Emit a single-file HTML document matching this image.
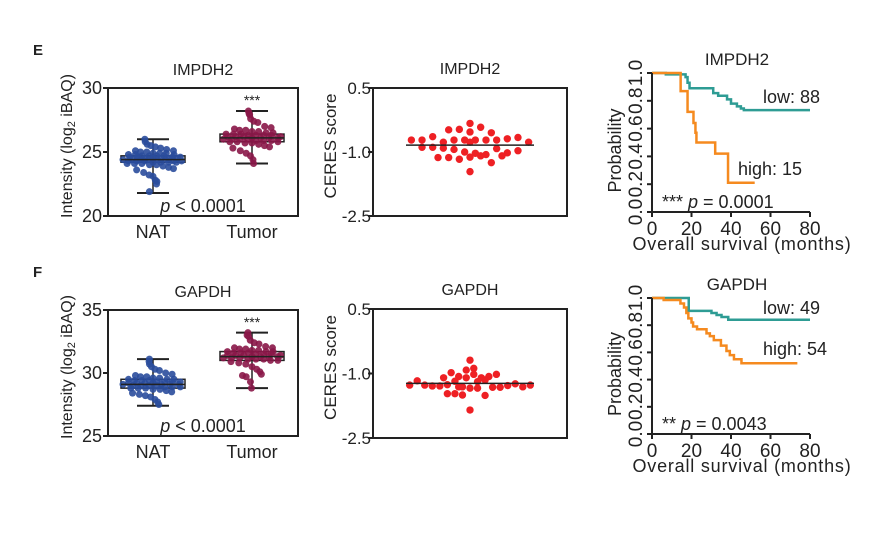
<!DOCTYPE html>
<html><head><meta charset="utf-8"><style>
html,body{margin:0;padding:0;background:#fff;}
svg{display:block;font-family:"Liberation Sans",sans-serif;}
</style></head><body>
<svg id="fig" width="881" height="538" viewBox="0 0 881 538"></svg>
<script>
// ---- data ----
const boxCats = ["NAT","Tumor"];
const natE = [26.0,25.8,25.6,25.5,25.4,25.3,25.2,25.1,25.1,25.0,25.0,24.9,24.9,24.9,24.8,24.8,24.8,24.7,24.7,24.7,24.7,24.6,24.6,24.6,24.6,24.5,24.5,24.5,24.5,24.5,24.4,24.4,24.4,24.4,24.4,24.4,24.3,24.3,24.3,24.3,24.3,24.2,24.2,24.2,24.2,24.1,24.1,24.1,24.0,24.0,23.9,23.8,23.7,23.6,23.4,23.2,23.1,22.8,22.7,22.5,21.9];
const tumE = [28.2,28.0,27.9,27.6,27.4,27.3,27.0,26.9,26.8,26.7,26.7,26.6,26.6,26.5,26.5,26.4,26.4,26.4,26.3,26.3,26.3,26.3,26.2,26.2,26.2,26.2,26.1,26.1,26.1,26.1,26.0,26.0,26.0,26.0,25.9,25.9,25.9,25.8,25.8,25.8,25.7,25.7,25.6,25.5,25.4,25.3,25.1,24.9,24.7,24.4,24.1];
const natStatsE = [21.8,24.2,24.4,24.7,26.0];
const tumStatsE = [24.1,25.8,26.1,26.4,28.2];
const natF = [31.1,30.9,30.7,30.5,30.3,30.2,30.0,29.9,29.8,29.7,29.7,29.6,29.6,29.5,29.5,29.5,29.4,29.4,29.4,29.3,29.3,29.3,29.3,29.2,29.2,29.2,29.2,29.1,29.1,29.1,29.1,29.0,29.0,29.0,29.0,28.9,28.9,28.9,28.8,28.8,28.8,28.7,28.7,28.6,28.5,28.4,28.3,28.2,28.1,27.9,27.7,27.5];
const tumF = [33.2,33.0,32.9,32.6,32.4,32.3,32.1,32.0,32.0,31.9,31.9,31.8,31.8,31.7,31.7,31.7,31.6,31.6,31.6,31.5,31.5,31.5,31.4,31.4,31.4,31.4,31.3,31.3,31.3,31.3,31.2,31.2,31.2,31.1,31.1,31.1,31.0,31.0,30.9,30.8,30.7,30.5,30.3,30.1,29.9,29.8,29.7,29.3,28.8];
const natStatsF = [27.4,28.8,29.1,29.5,31.1];
const tumStatsF = [28.8,31.0,31.3,31.7,33.2];
const boxTicksE = [20,25,30];
const boxTicksF = [25,30,35];

const ceresEval = [-0.72,-0.72,-0.89,-0.64,-0.89,-1.13,-0.77,-0.91,-0.48,-1.13,-0.72,-0.94,-0.47,-1.17,-0.72,-1.0,-0.33,-0.53,-0.77,-1.12,-1.46,-0.72,-1.03,-0.42,-1.09,-0.72,-1.06,-0.55,-1.25,-0.72,-0.92,-1.09,-0.69,-1.02,-0.66,-0.97,-0.77];
const ceresEcol = [-11,-9,-9,-7,-7,-6,-5,-5,-4,-4,-3,-3,-2,-2,-1,-1,0,0,0,0,0,1,1,2,2,3,3,4,4,5,5,6,7,7,9,9,11];
const ceresEmean = -0.84;
const ceresFval = [-1.27,-1.17,-1.27,-1.29,-1.29,-1.10,-1.26,-1.47,-0.98,-1.18,-1.47,-1.07,-1.50,-1.31,-0.92,-1.10,-0.69,-1.34,-1.85,-0.88,-1.02,-1.19,-1.34,-1.10,-1.15,-1.51,-1.07,-1.32,-1.02,-1.32,-1.28,-1.24,-1.31,-1.27,-1.31];
const ceresFcol = [-16,-14,-12,-10,-8,-7,-6,-6,-5,-4,-4,-3,-2,-2,-1,-1,0,0,0,1,1,2,2,3,4,4,5,6,7,8,10,12,14,16,-3];
const ceresFmean = -1.23;
const ceresTicks = [0.5,-1.0,-2.5];

const kmXTicks = [0,20,40,60,80];
const kmYTicks = [0,0.2,0.4,0.6,0.8,1.0];
const kmElowT = [0,7,17,18,19,19.5,31,33.5,38,40,43,45,46.5,80];
const kmElowS = [1.0,0.99,0.97,0.93,0.89,0.89,0.855,0.836,0.81,0.78,0.76,0.745,0.733,0.733];
const kmEhighT = [0,14.5,18,21,22,22.5,32,38.5,52];
const kmEhighS = [1.0,0.87,0.72,0.64,0.57,0.50,0.42,0.21,0.21];
const kmFlowT = [0,18.6,30.1,32.7,35.2,38.6,80];
const kmFlowS = [1.0,0.905,0.89,0.875,0.86,0.84,0.84];
const kmFhighT = [0,5.9,14.4,16.2,17.4,18.4,20,20.8,22.8,27.6,29.3,31.3,34.9,37.7,39.4,41.5,45.3,73.6];
const kmFhighS = [1.0,0.985,0.96,0.93,0.89,0.85,0.82,0.79,0.77,0.74,0.72,0.69,0.65,0.61,0.58,0.55,0.52,0.52];

const NS="http://www.w3.org/2000/svg";
const svg=document.getElementById('fig');
function mk(tag,attrs,parent,text){const e=document.createElementNS(NS,tag);for(const k in attrs)e.setAttribute(k,attrs[k]);if(text!==undefined)e.textContent=text;(parent||svg).appendChild(e);return e;}
function lin(d0,d1,r0,r1){return v=>r0+(v-d0)*(r1-r0)/(d1-d0);}

function txt(x,y,s,size,anchor,name,extra){const t=mk('text',Object.assign({x:x,y:y,'font-size':size,'text-anchor':anchor||'start',fill:'#222'},extra||{}),svg,s);return t;}

txt(33,55,"E",15,'start','panel-label-e',{'font-weight':'bold'});
txt(33,277,"F",15,'start','panel-label-f',{'font-weight':'bold'});

function boxPanel(top,bot,ticks,nat,tum,ns,ts,title,tag){
  const L=108,R=298;
  const y=lin(ticks[0],ticks[2],bot,top);
  const g=mk('g',{});
  txt(203,top-13,title,16,'middle','box-title-'+tag);
  const cx=[153,252];
  [[nat,ns,'#2a4d9c'],[tum,ts,'#8a1748']].forEach((grp,gi)=>{
    const [vals,st,col]=grp;const c=cx[gi];
    const w=mk('line',{x1:c,x2:c,y1:y(st[0]),y2:y(st[4]),stroke:'#222','stroke-width':1.5},g);
    
    [st[0],st[4]].forEach(v=>mk('line',{x1:c-16,x2:c+16,y1:y(v),y2:y(v),stroke:'#222','stroke-width':2},g));
    const b=mk('rect',{x:c-32,y:y(st[3]),width:64,height:y(st[1])-y(st[3]),fill:'none',stroke:'#222','stroke-width':1.5},g);
    
    vals.forEach((v,i)=>{
      const spread=Math.max(0.12,1-Math.abs(v-st[2])/2.2);
      const off=(((i*17)%15)-7)/7*30*spread;
      const d=mk('circle',{cx:c+off,cy:y(v),r:3.5,fill:col,opacity:0.9},g);
      
    });
    mk('line',{x1:c-32,x2:c+32,y1:y(st[2]),y2:y(st[2]),stroke:'#222','stroke-width':1.5},g);
    txt(c,bot+22,boxCats[gi],18,'middle','x-label-'+boxCats[gi].toLowerCase());
  });
  const fr=mk('rect',{x:L,y:top,width:R-L,height:bot-top,fill:'none',stroke:'#222','stroke-width':2},g);
  
  ticks.forEach(t=>{mk('line',{x1:L-5,x2:L,y1:y(t),y2:y(t),stroke:'#222','stroke-width':2},g);txt(L-6,y(t)+6,String(t),18,'end','y-tick');});
  txt(252,top+17,"***",14,'middle','significance-stars');
  txt(203,bot-4,"",18,'middle','p-value').innerHTML='<tspan font-style="italic">p</tspan> &lt; 0.0001';
  const yl=mk('text',{x:0,y:0,'font-size':16,'text-anchor':'middle',fill:'#222',transform:`translate(72,${(top+bot)/2-6}) rotate(-90)`});
  yl.innerHTML='Intensity (log<tspan font-size="11" dy="3">2</tspan><tspan dy="-3"> iBAQ)</tspan>';
  
}
boxPanel(88,216,boxTicksE,natE,tumE,natStatsE,tumStatsE,"IMPDH2","e");
boxPanel(310,436,boxTicksF,natF,tumF,natStatsF,tumStatsF,"GAPDH","f");

function ceresPanel(top,bot,vals,cols,mean,spacing,title,tag){
  const L=373,R=567,cx=470;
  const y=lin(0.5,-2.5,top,bot);
  const g=mk('g',{});
  txt(470,top-14,title,16,'middle','ceres-title-'+tag);
  vals.forEach((v,i)=>{const d=mk('circle',{cx:cx+cols[i]*spacing,cy:y(v),r:3.7,fill:'#ee2024'},g);
    });
  const ml=mk('line',{x1:406,x2:534,y1:y(mean),y2:y(mean),stroke:'#222','stroke-width':1.5},g);
  
  const fr=mk('rect',{x:L,y:top,width:R-L,height:bot-top,fill:'none',stroke:'#222','stroke-width':2},g);
  
  ceresTicks.forEach(t=>{mk('line',{x1:L-5,x2:L,y1:y(t),y2:y(t),stroke:'#222','stroke-width':2},g);txt(L-2,y(t)+6,t.toFixed(1),17,'end','y-tick');});
  txt(0,0,"CERES score",17,'middle','y-axis-title',{transform:`translate(336,${(top+bot)/2-6}) rotate(-90)`});
}
ceresPanel(88,216,ceresEval,ceresEcol,ceresEmean,5.33,"IMPDH2","e");
ceresPanel(309,438,ceresFval,ceresFcol,ceresFmean,3.77,"GAPDH","f");

function stepPath(x,y,T,S){let d=`M${x(T[0])},${y(S[0])}`;for(let i=1;i<T.length;i++){d+=` H${x(T[i])} V${y(S[i])}`;}return d;}
function kmPanel(top,bot,lowT,lowS,highT,highS,title,lowLbl,lowY,highLbl,highX,highY,pTxt,tag){
  const x=lin(0,80,652,810),y=lin(0,1,bot,top);
  const g=mk('g',{});
  txt(737,top-8,title,17,'middle','km-title-'+tag);
  const lo=mk('path',{d:stepPath(x,y,lowT,lowS),fill:'none',stroke:'#2e9c94','stroke-width':2.5},g);
  
  const hi=mk('path',{d:stepPath(x,y,highT,highS),fill:'none',stroke:'#f58a1f','stroke-width':2.5},g);
  
  mk('line',{x1:652,x2:652,y1:top,y2:bot,stroke:'#222','stroke-width':2},g);
  mk('line',{x1:652,x2:810,y1:bot,y2:bot,stroke:'#222','stroke-width':2},g);
  kmYTicks.forEach(t=>{mk('line',{x1:647,x2:652,y1:y(t),y2:y(t),stroke:'#222','stroke-width':2},g);
    txt(0,0,t.toFixed(1),19,'middle','y-tick',{transform:`translate(642,${y(t)}) rotate(-90)`});});
  kmXTicks.forEach(t=>{mk('line',{x1:x(t),x2:x(t),y1:bot,y2:bot+5,stroke:'#222','stroke-width':2},g);
    txt(x(t),bot+23,String(t),19,'middle','x-tick');});
  txt(742,bot+38,"Overall survival (months)",18,'middle','x-axis-title',{'letter-spacing':'0.8'});
  txt(0,0,"Probability",18,'middle','y-axis-title',{transform:`translate(621,${(top+bot)/2+8}) rotate(-90)`});
  txt(763,lowY,lowLbl,18,'start','legend-low');
  txt(highX,highY,highLbl,18,'start','legend-high');
  txt(662,bot-4,"",18,'start','p-value').innerHTML=pTxt;
}
kmPanel(73,212,kmElowT,kmElowS,kmEhighT,kmEhighS,"IMPDH2","low: 88",103,"high: 15",738,175,'*** <tspan font-style="italic">p</tspan> = 0.0001',"e");
kmPanel(298,434,kmFlowT,kmFlowS,kmFhighT,kmFhighS,"GAPDH","low: 49",314,"high: 54",763,355,'** <tspan font-style="italic">p</tspan> = 0.0043',"f");
</script>
</body></html>
